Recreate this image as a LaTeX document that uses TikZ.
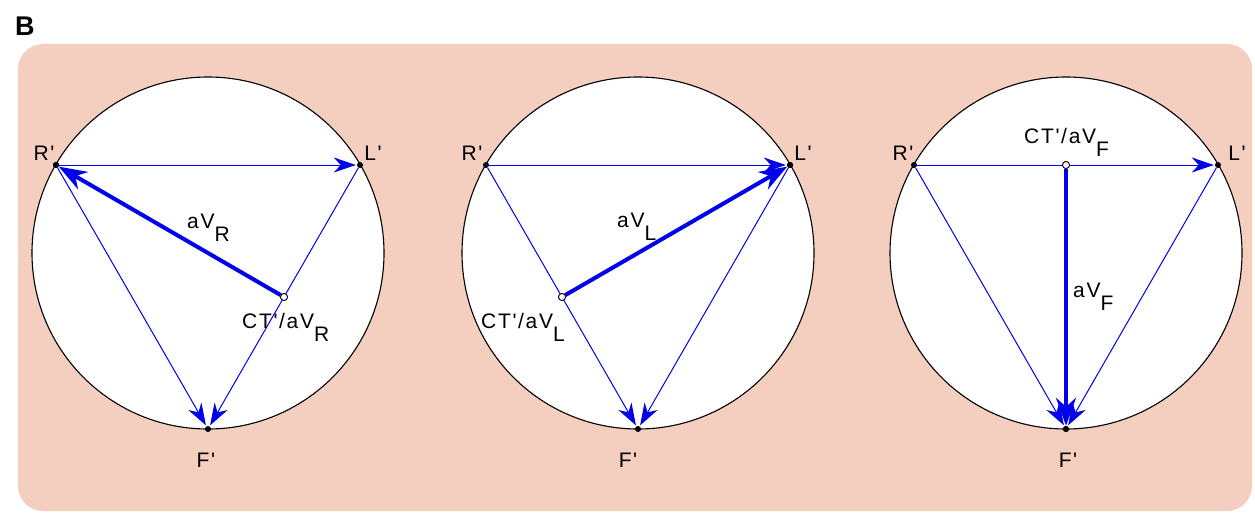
\documentclass[tikz,border=0pt]{standalone}
\usepackage{fontspec}
\setmainfont{Liberation Sans}[Ligatures=TeXOff, LetterSpace=8]
\usetikzlibrary{arrows.meta}
\definecolor{peach}{RGB}{244,206,190}
\definecolor{vblue}{RGB}{0,0,235}
\newcommand{\lowsub}[1]{\raisebox{-13pt}{#1}}
\begin{document}
\begin{tikzpicture}[x=1pt,y=-1pt,
  lab/.style={font=\fontsize{21}{24}\selectfont, inner sep=0pt},
  vthin/.style={draw=vblue, line width=1pt, -{Stealth[length=22pt,width=15pt,inset=7pt,fill=vblue]}, shorten >=1pt},
  vthick/.style={draw=vblue, line width=4pt, -{Stealth[length=28pt,width=20pt,inset=9pt,fill=vblue]}},
  pt/.style={circle, fill=black, inner sep=0pt, minimum size=6pt},
  ctpt/.style={circle, draw=black, fill=white, inner sep=0pt, minimum size=7pt, line width=0.8pt},
  ring/.style={circle, draw=black, fill=white, line width=1.1pt, inner sep=0pt, minimum size=352pt}
]
\useasboundingbox (0,0) rectangle (1255,519);
\fill[white] (0,0) rectangle (1255,519);
\fill[peach, rounded corners=25pt] (18,44) rectangle (1252,511);
\node[font=\fontsize{27}{30}\selectfont\bfseries, inner sep=0pt, anchor=base west] (B) at (15,36) {B};

% panel 1
\node[ring] (O1) at (208,253) {};
\node[pt] (R1) at (56,165) {};
\node[pt] (L1) at (360,165) {};
\node[pt] (F1) at (208,429) {};
\node[ctpt] (C1) at (284,297) {};
\draw[vthin] (R1) -- (L1);
\draw[vthin] (R1) -- (F1);
\draw[vthin] (L1) -- (F1);
\draw[vthick] (C1) -- (R1);
\node[pt] at (R1) {};
\node[ctpt] at (C1) {};
\node[lab, anchor=base] (tR1) at (44,160) {R'};
\node[lab, anchor=base] (tL1) at (373,160) {L'};
\node[lab, anchor=base] (tF1) at (206,467) {F'};
\node[lab, anchor=base west] (tV1) at (187,228) {aV\lowsub{R}};
\node[lab, anchor=base west] (tC1) at (242,328) {CT'/aV\lowsub{R}};

% panel 2
\node[ring] (O2) at (638,253) {};
\node[pt] (R2) at (486,165) {};
\node[pt] (L2) at (790,165) {};
\node[pt] (F2) at (638,429) {};
\node[ctpt] (C2) at (562,297) {};
\draw[vthin] (R2) -- (L2);
\draw[vthin] (R2) -- (F2);
\draw[vthin] (L2) -- (F2);
\draw[vthick] (C2) -- (L2);
\node[pt] at (L2) {};
\node[ctpt] at (C2) {};
\node[lab, anchor=base] (tR2) at (472,160) {R'};
\node[lab, anchor=base] (tL2) at (803,160) {L'};
\node[lab, anchor=base] (tF2) at (628,467) {F'};
\node[lab, anchor=base west] (tV2) at (617,227) {aV\lowsub{L}};
\node[lab, anchor=base west] (tC2) at (481,328) {CT'/aV\lowsub{L}};

% panel 3
\node[ring] (O3) at (1066,253) {};
\node[pt] (R3) at (914,165) {};
\node[pt] (L3) at (1218,165) {};
\node[pt] (F3) at (1066,429) {};
\node[ctpt] (C3) at (1066,165) {};
\draw[vthin] (R3) -- (L3);
\draw[vthin] (R3) -- (F3);
\draw[vthin] (L3) -- (F3);
\draw[vthick] (C3) -- (F3);
\node[pt] at (F3) {};
\node[ctpt] at (C3) {};
\node[lab, anchor=base] (tR3) at (903,160) {R'};
\node[lab, anchor=base] (tL3) at (1237,160) {L'};
\node[lab, anchor=base] (tF3) at (1068,467) {F'};
\node[lab, anchor=base west] (tV3) at (1073,297) {aV\lowsub{F}};
\node[lab, anchor=base west] (tC3) at (1024,143) {CT'/aV\lowsub{F}};
\end{tikzpicture}
\end{document}
